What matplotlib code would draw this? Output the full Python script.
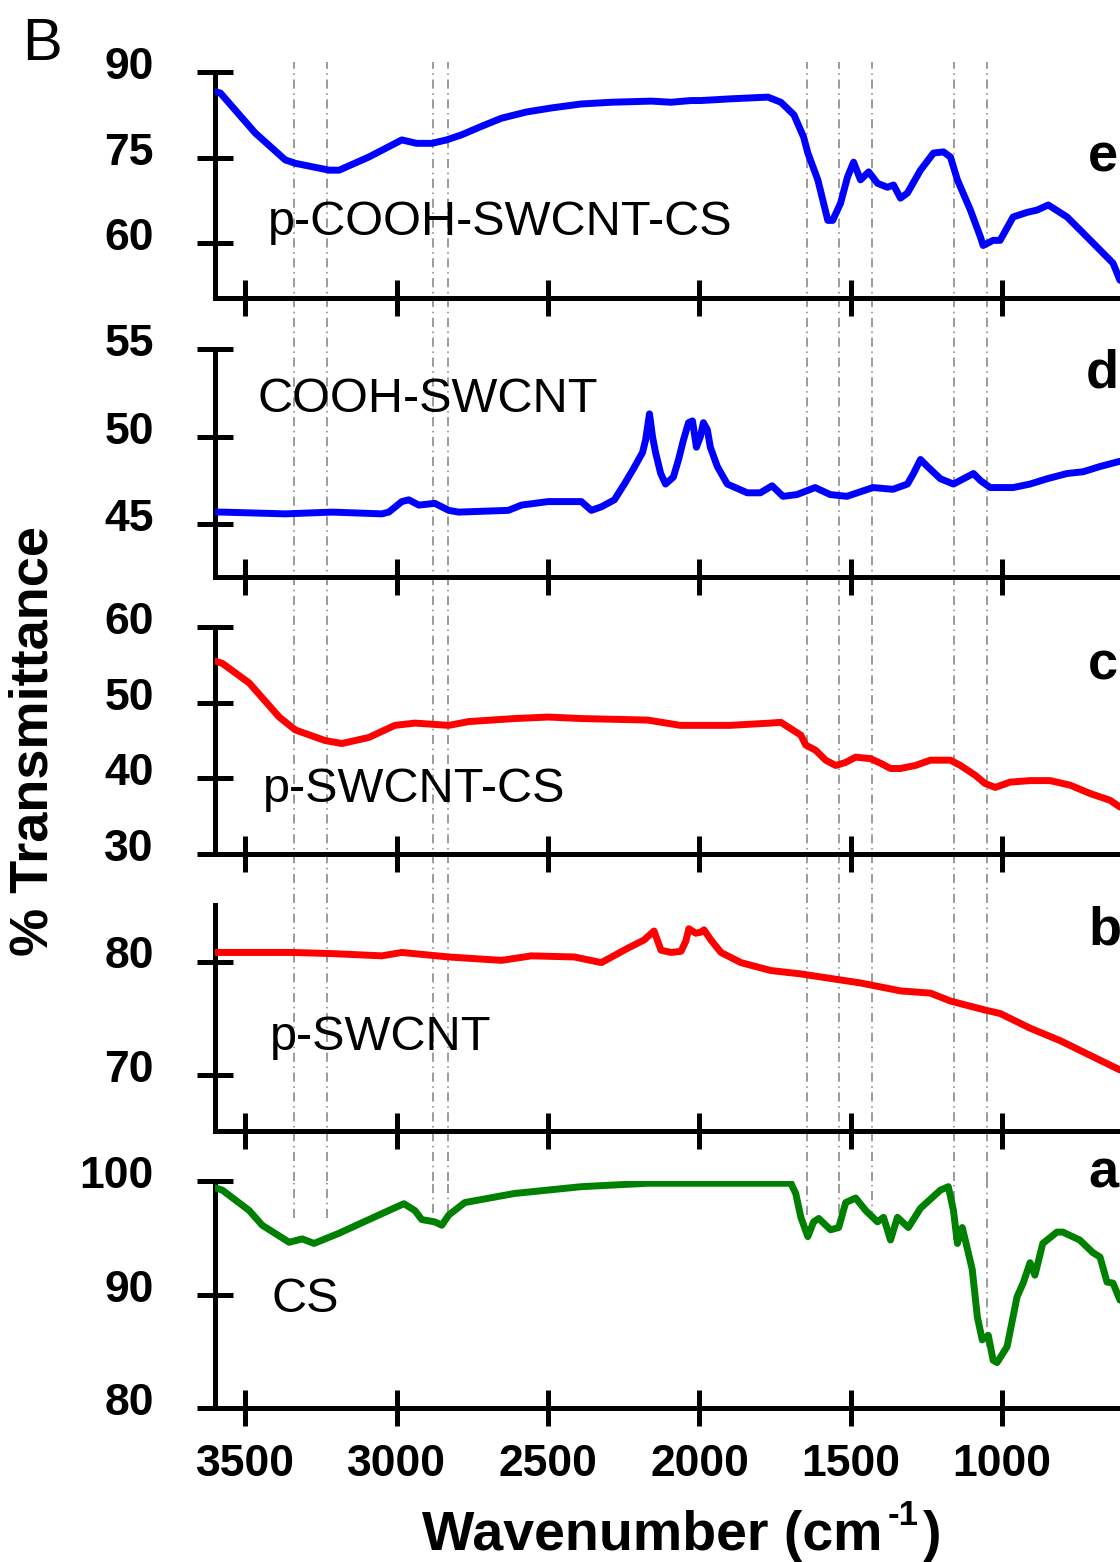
import matplotlib
matplotlib.use("Agg")
import matplotlib.pyplot as plt
from matplotlib.transforms import ScaledTranslation

plt.rcParams['font.family'] = ['Liberation Sans', 'DejaVu Sans']

# ---- data (wavenumber in cm-1, % transmittance) ----
wn_a = [3600, 3576, 3487, 3444, 3355, 3312, 3273, 3190, 3092, 3026, 2976, 2940,
        2917, 2874, 2851, 2828, 2775, 2611, 2390, 2171, 1995, 1698, 1682, 1665,
        1642, 1623, 1606, 1567, 1540, 1517, 1484, 1451, 1412, 1392, 1369, 1346,
        1310, 1270, 1204, 1178, 1161, 1148, 1132, 1122, 1099, 1082, 1066, 1046,
        1030, 1017, 984, 951, 931, 908, 892, 866, 819, 800, 744, 701,
        677, 654, 634, 611]
val_a = [99.4, 99.2, 97.4, 96.1, 94.6, 94.9, 94.5, 95.4, 96.6, 97.4, 98.0, 97.4,
         96.6, 96.4, 96.1, 97.0, 98.1, 98.9, 99.5, 99.8, 99.8, 99.8, 98.9, 96.8,
         95.1, 96.4, 96.7, 95.7, 95.9, 98.1, 98.5, 97.4, 96.4, 96.8, 94.8, 96.8,
         95.9, 97.6, 99.2, 99.5, 97.4, 94.5, 95.9, 94.8, 92.2, 88.0, 86.0, 86.4,
         84.2, 84.0, 85.4, 89.8, 91.0, 92.8, 91.7, 94.5, 95.5, 95.5, 94.8, 93.7,
         93.3, 91.1, 91.0, 89.5]

wn_b = [3600, 3576, 3345, 3213, 3049, 2983, 2828, 2654, 2555, 2413, 2324, 2235,
        2183, 2150, 2127, 2094, 2061, 2045, 2035, 2012, 1995, 1985, 1962, 1929,
        1863, 1764, 1665, 1567, 1468, 1336, 1237, 1171, 1056, 1007, 908, 809,
        710, 611]
val_b = [80.8, 80.8, 80.8, 80.7, 80.5, 80.8, 80.4, 80.1, 80.5, 80.4, 79.9, 81.2,
         81.9, 82.7, 81.0, 80.8, 80.9, 81.8, 82.9, 82.5, 82.6, 82.8, 81.9, 80.8,
         79.9, 79.2, 78.9, 78.5, 78.1, 77.4, 77.2, 76.5, 75.7, 75.4, 74.1, 73.0,
         71.7, 70.4]

wn_c = [3600, 3576, 3487, 3388, 3335, 3237, 3181, 3092, 3006, 2940, 2828, 2762,
        2611, 2499, 2390, 2171, 2063, 1900, 1766, 1731, 1665, 1649, 1616, 1583,
        1550, 1517, 1484, 1435, 1402, 1369, 1336, 1287, 1237, 1171, 1138, 1089,
        1056, 1023, 974, 908, 842, 776, 710, 644, 611]
val_c = [55.5, 55.2, 52.6, 48.1, 46.4, 45.0, 44.6, 45.4, 47.0, 47.3, 47.0, 47.5,
         47.9, 48.1, 47.9, 47.7, 47.0, 47.0, 47.3, 47.4, 45.7, 44.4, 43.7, 42.4,
         41.7, 42.1, 42.8, 42.6, 42.0, 41.3, 41.3, 41.7, 42.4, 42.4, 41.7, 40.4,
         39.3, 38.8, 39.5, 39.7, 39.7, 39.1, 38.0, 37.1, 36.2]

wn_d = [3600, 3576, 3368, 3213, 3049, 3026, 2983, 2960, 2927, 2874, 2828, 2795,
        2631, 2588, 2500, 2390, 2357, 2324, 2281, 2248, 2217, 2188, 2178, 2165,
        2155, 2145, 2128, 2112, 2086, 2069, 2053, 2036, 2023, 2010, 1997, 1987,
        1974, 1964, 1941, 1908, 1842, 1799, 1760, 1724, 1678, 1618, 1568, 1513,
        1427, 1361, 1313, 1293, 1270, 1247, 1204, 1161, 1128, 1095, 1072, 1040,
        964, 908, 852, 786, 733, 677, 611]
val_d = [45.7, 45.7, 45.6, 45.7, 45.6, 45.7, 46.3, 46.4, 46.1, 46.2, 45.8, 45.7,
         45.8, 46.1, 46.3, 46.3, 45.8, 46.0, 46.4, 47.3, 48.2, 49.1, 49.8, 51.3,
         50.0, 49.1, 47.9, 47.3, 47.7, 48.7, 49.8, 50.8, 50.9, 49.4, 50.0, 50.8,
         50.4, 49.4, 48.3, 47.3, 46.8, 46.8, 47.2, 46.6, 46.7, 47.1, 46.7, 46.6,
         47.1, 47.0, 47.3, 47.9, 48.7, 48.3, 47.6, 47.3, 47.6, 47.9, 47.5, 47.1,
         47.1, 47.3, 47.6, 47.9, 48.0, 48.3, 48.6]

wn_e = [3600, 3582, 3467, 3368, 3335, 3223, 3190, 3092, 2983, 2934, 2884, 2835,
        2785, 2719, 2654, 2571, 2489, 2390, 2291, 2159, 2094, 2028, 1995, 1896,
        1774, 1731, 1688, 1656, 1642, 1609, 1576, 1560, 1534, 1511, 1491, 1468,
        1441, 1412, 1379, 1359, 1336, 1313, 1270, 1227, 1194, 1171, 1148, 1105,
        1072, 1063, 1030, 1007, 964, 918, 885, 848, 786, 733, 677, 634, 611]
val_e = [86.6, 86.3, 79.3, 74.6, 74.0, 72.8, 72.8, 75.1, 78.1, 77.5, 77.5, 78.1,
         79.0, 80.5, 81.9, 83.0, 83.7, 84.4, 84.7, 84.9, 84.7, 85.0, 85.0, 85.3,
         85.6, 84.7, 82.5, 78.6, 75.8, 71.1, 64.0, 64.0, 67.0, 71.6, 74.2, 71.1,
         72.5, 70.5, 69.8, 70.2, 67.9, 68.8, 72.8, 75.8, 76.0, 75.1, 71.1, 65.8,
         61.1, 59.6, 60.5, 60.5, 64.6, 65.4, 65.8, 66.7, 64.6, 61.8, 58.8, 56.5, 53.5]

names = ['CS', 'p-SWCNT', 'p-SWCNT-CS', 'COOH-SWCNT', 'p-COOH-SWCNT-CS']
letters = ['a', 'b', 'c', 'd', 'e']
colors = ['#008000', '#ff0000', '#ff0000', '#0000ff', '#0000ff']
series = [(wn_a, val_a), (wn_b, val_b), (wn_c, val_c), (wn_d, val_d), (wn_e, val_e)]
ylims = [(80, 100), (65, 85), (30, 60), (42, 55), (50.4, 90)]
yticks = [[80, 90, 100], [70, 80], [30, 40, 50, 60], [45, 50, 55], [60, 75, 90]]
xticks = [3500, 3000, 2500, 2000, 1500, 1000]

# marked bands (dash-dot guides) and where they end on the CS curve
band_wn = [3340, 3230, 2880, 2830, 1645, 1540, 1430, 1160, 1050]
band_stop = [96.7, 96.7, 97.2, 97.2, 97.0, 97.2, 96.6, 94.8, 85.4]

# ---- layout (pixels of the 1120 x 1562 picture) ----
W, H = 1120, 1562
fig = plt.figure(figsize=(W / 100, H / 100), dpi=100)


def fx(px):
    return px / W


def fy(py):
    return 1 - py / H


left_px, right_px = 215, 1120
panel_px = [(1181, 1408), (905, 1131), (627, 854), (349, 577), (72, 298)]
name_pos = [(272, 1312), (270, 1050), (263, 802), (258, 412), (268, 235)]
letter_pos = [(1088, 1188), (1088, 944), (1088, 680), (1086, 387), (1088, 172)]
XMIN, XMAX = 3600, 611
guide_style = dict(colors='#808080', linewidth=1.1, linestyles=(0, (6, 3, 1, 3)))

# background axis for guide lines running through all panels
ax_bg = fig.add_axes([fx(left_px), fy(panel_px[0][0]), fx(right_px) - fx(left_px),
                      fy(62) - fy(panel_px[0][0])], zorder=0)
ax_bg.set_xlim(XMIN, XMAX)
ax_bg.set_ylim(0, 1)
ax_bg.axis('off')
ax_bg.vlines(band_wn, 0, 1, **guide_style)

for i in range(5):
    top, bot = panel_px[i]
    ax = fig.add_axes([fx(left_px), fy(bot), fx(right_px) - fx(left_px), fy(top) - fy(bot)],
                      zorder=1)
    ax.patch.set_visible(False)
    wn, val = series[i]
    ax.plot(wn, val, color=colors[i], linewidth=5, solid_joinstyle='round',
            solid_capstyle='round', zorder=3)
    ax.set_xlim(XMIN, XMAX)
    ax.set_ylim(*ylims[i])
    for s in ['top', 'right']:
        ax.spines[s].set_visible(False)
    for s in ['left', 'bottom']:
        ax.spines[s].set_linewidth(3.6)
    ax.tick_params(axis='both', direction='inout', length=26, width=3.6, labelsize=32)
    ax.tick_params(axis='y', pad=31)
    ax.tick_params(axis='x', pad=13)
    ax.set_yticks(yticks[i], labels=[str(t) for t in yticks[i]], fontweight='bold')
    if i == 0:
        ax.set_xticks(xticks, labels=[str(t) for t in xticks], fontweight='bold')
        ax.vlines(band_wn, band_stop, ylims[i][1], zorder=1, **guide_style)
    else:
        ax.set_xticks(xticks)
        ax.tick_params(axis='x', labelbottom=False)
    for lab in ax.get_yticklabels():
        lab.set_transform(lab.get_transform() + ScaledTranslation(0, 0.09, fig.dpi_scale_trans))

    fig.text(fx(name_pos[i][0]), fy(name_pos[i][1]), names[i], fontsize=35,
             va='baseline', ha='left')
    fig.text(fx(letter_pos[i][0]), fy(letter_pos[i][1]), letters[i], fontsize=39,
             fontweight='bold', va='baseline', ha='left')

fig.text(fx(22), fy(60), 'B', fontsize=43, va='baseline', ha='left')

# x label built from three pieces so the superscript keeps a plain hyphen
xl = fig.text(fx(422), fy(1550), 'Wavenumber (cm', fontsize=40, fontweight='bold',
              ha='left', va='baseline')
sup = ax_bg.annotate('-1', xy=(1, 1), xycoords=xl, xytext=(4, 8), textcoords='offset points',
                     fontsize=25, fontweight='bold', ha='left', va='top',
                     annotation_clip=False)
ax_bg.annotate(')', xy=(1, 0), xycoords=(sup, xl), xytext=(3, 0), textcoords='offset points',
               fontsize=40, fontweight='bold', ha='left', va='bottom',
               annotation_clip=False)

fig.text(fx(34), fy(741), '% Transmittance', fontsize=39, fontweight='bold',
         rotation=90, ha='center', va='center')

fig.savefig('out.png', dpi=100)
